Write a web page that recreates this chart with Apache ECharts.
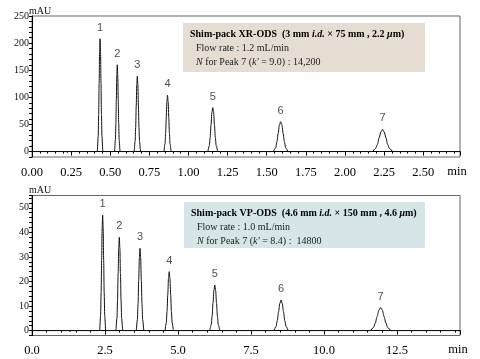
<!DOCTYPE html>
<html><head><meta charset="utf-8">
<script src="https://cdn.jsdelivr.net/npm/echarts@6/dist/echarts.min.js"></script>
<style>html,body{margin:0;padding:0;background:#fff}#c{width:480px;height:359px}</style>
</head><body><div id="c"></div>
<script>
// Top chromatogram (Shim-pack XR-ODS), time in min, signal in mAU
const topTimes = [0, 0.22, 0.226, 0.232,
  0.417, 0.423, 0.426, 0.429, 0.432, 0.435, 0.438, 0.441, 0.444, 0.447, 0.453,
  0.527, 0.533, 0.536, 0.539, 0.542, 0.545, 0.548, 0.551, 0.554, 0.557, 0.563,
  0.652, 0.659, 0.6625, 0.666, 0.6695, 0.673, 0.6765, 0.680, 0.6835, 0.687, 0.694,
  0.842, 0.850, 0.854, 0.858, 0.862, 0.866, 0.870, 0.874, 0.878, 0.882, 0.890,
  1.122, 1.133, 1.1385, 1.144, 1.1495, 1.155, 1.1605, 1.166, 1.1715, 1.177, 1.188,
  1.541, 1.557, 1.565, 1.573, 1.581, 1.589, 1.597, 1.605, 1.613, 1.621, 1.637,
  2.174, 2.196, 2.207, 2.218, 2.229, 2.240, 2.251, 2.262, 2.273, 2.284, 2.306,
  2.735];
const topValues = [0, 0, -2, 0,
  0, 28, 68, 126, 184, 208, 184, 126, 68, 28, 0,
  0, 22, 52, 97, 141, 160, 141, 97, 52, 22, 0,
  0, 19, 45, 84, 123, 139, 123, 84, 45, 19, 0,
  0, 14, 34, 63, 92, 104, 92, 63, 34, 14, 0,
  0, 11, 26, 49, 72, 81, 72, 49, 26, 11, 0,
  0, 7, 18, 33, 49, 55, 49, 33, 18, 7, 0,
  0, 6, 13, 25, 36, 41, 36, 25, 13, 6, 0,
  0];
const topPeakTimes = [0.435, 0.545, 0.673, 0.866, 1.155, 1.589, 2.240];
const topPeakHeights = [208, 160, 139, 104, 81, 55, 41];

// Bottom chromatogram (Shim-pack VP-ODS)
const botTimes = [0, 1.28, 1.3, 1.32,
  2.315, 2.350, 2.3675, 2.385, 2.4025, 2.42, 2.4375, 2.455, 2.4725, 2.49, 2.525,
  2.87, 2.91, 2.93, 2.95, 2.97, 2.99, 3.01, 3.03, 3.05, 3.07, 3.11,
  3.565, 3.61, 3.6325, 3.655, 3.6775, 3.70, 3.7225, 3.745, 3.7675, 3.79, 3.835,
  4.55, 4.60, 4.625, 4.65, 4.675, 4.70, 4.725, 4.75, 4.775, 4.80, 4.85,
  6.08, 6.14, 6.17, 6.20, 6.23, 6.26, 6.29, 6.32, 6.35, 6.38, 6.44,
  8.275, 8.36, 8.4025, 8.445, 8.4875, 8.53, 8.5725, 8.615, 8.6575, 8.70, 8.785,
  11.58, 11.70, 11.76, 11.82, 11.88, 11.94, 12.00, 12.06, 12.12, 12.18, 12.30,
  14.66];
const botValues = [0, 0, -0.4, 0,
  0, 6.3, 15.3, 28.5, 41.5, 47, 41.5, 28.5, 15.3, 6.3, 0,
  0, 5.1, 12.4, 23.1, 33.6, 38, 33.6, 23.1, 12.4, 5.1, 0,
  0, 4.5, 10.9, 20.3, 29.6, 33.5, 29.6, 20.3, 10.9, 4.5, 0,
  0, 3.2, 7.8, 14.6, 21.2, 24, 21.2, 14.6, 7.8, 3.2, 0,
  0, 2.5, 6.0, 11.2, 16.3, 18.5, 16.3, 11.2, 6.0, 2.5, 0,
  0, 1.7, 4.1, 7.6, 11.0, 12.5, 11.0, 7.6, 4.1, 1.7, 0,
  0, 1.3, 3.1, 5.7, 8.3, 9.4, 8.3, 5.7, 3.1, 1.3, 0,
  0];
const botPeakTimes = [2.42, 2.99, 3.70, 4.70, 6.26, 8.53, 11.94];
const botPeakHeights = [47, 38, 33.5, 24, 18.5, 12.5, 9.4];

const peakLabels = ['1', '2', '3', '4', '5', '6', '7'];

const zip = (a, b) => a.map((v, i) => [v, b[i]]);
const serif = '"Liberation Serif", "Times New Roman", serif';

function xAxisCfg(gi, max, interval, digits) {
  return {
    type: 'value', gridIndex: gi, min: 0, max: max, interval: interval,
    axisLine: { lineStyle: { color: '#000', width: 1 } },
    axisTick: { show: true, length: 4, lineStyle: { color: '#000' } },
    minorTick: { show: true, splitNumber: 5, length: 2, lineStyle: { color: '#000' } },
    splitLine: { show: false },
    axisLabel: { showMaxLabel: false, margin: 9, color: '#000', fontFamily: serif, fontSize: 12.5,
      formatter: v => v.toFixed(digits) }
  };
}
function yAxisCfg(gi, min, max, interval, labelStep) {
  return {
    type: 'value', gridIndex: gi, min: min, max: max, interval: interval,
    axisLine: { show: true, lineStyle: { color: '#000', width: 1 } },
    axisTick: { show: true, length: 3, lineStyle: { color: '#000' } },
    splitLine: { show: false },
    axisLabel: { margin: 3, color: '#111', fontFamily: serif, fontSize: 10,
      formatter: v => (v >= 0 && Math.abs(v % labelStep) < 1e-9) ? String(v) : '' }
  };
}
function labelSeries(xi, times, heights) {
  return {
    type: 'scatter', xAxisIndex: xi, yAxisIndex: xi, symbolSize: 1,
    itemStyle: { color: 'rgba(0,0,0,0)' }, silent: true,
    data: times.map((t, i) => [t, heights[i], peakLabels[i]]),
    label: { show: true, position: 'top', distance: 5, formatter: p => p.data[2],
      color: '#222', fontFamily: '"Liberation Sans", Arial, sans-serif', fontSize: 11 }
  };
}
function box(x, y, w, h, fill, col, k, nval) {
  const rich = {
    b: { fontFamily: serif, fontWeight: 'bold', fontSize: 10, fill: '#000' },
    bi: { fontFamily: serif, fontWeight: 'bold', fontStyle: 'italic', fontSize: 10, fill: '#000' },
    r: { fontFamily: serif, fontSize: 10, fill: '#222' },
    ri: { fontFamily: serif, fontStyle: 'italic', fontSize: 10, fill: '#222' }
  };
  return [
    { type: 'rect', shape: { x: x, y: y, width: w, height: h }, style: { fill: fill }, z: 10 },
    { type: 'text', x: x + 7, y: y + 11, z: 11, style: { rich: rich, verticalAlign: 'middle',
      text: '{b|Shim-pack ' + col[0] + '  (' + col[1] + ' mm }{bi|i.d.}{b| × ' + col[2] + ' mm , ' + col[3] + ' }{bi|μ}{b|m)}' } },
    { type: 'text', x: x + 13, y: y + 25, z: 11, style: { rich: rich, verticalAlign: 'middle',
      text: '{r|Flow rate : ' + col[4] + ' mL/min}' } },
    { type: 'text', x: x + 13, y: y + 39, z: 11, style: { rich: rich, verticalAlign: 'middle',
      text: '{ri|N}{r| for Peak 7 (}{ri|k\'}{r| = ' + k + ') : ' + nval + '}' } }
  ];
}

const chart = echarts.init(document.getElementById('c'));
chart.setOption({
  animation: false,
  backgroundColor: '#fff',
  grid: [
    { left: 32, right: 20, top: 16, height: 141, show: true, borderColor: '#666', borderWidth: 1 },
    { left: 32, right: 20, top: 195.5, height: 140, show: true, borderColor: '#666', borderWidth: 1 }
  ],
  xAxis: [xAxisCfg(0, 2.735, 0.25, 2), xAxisCfg(1, 14.66, 2.5, 1)],
  yAxis: [yAxisCfg(0, -10, 250, 10, 50), yAxisCfg(1, -2, 55, 2, 10)],
  series: [
    { type: 'line', xAxisIndex: 0, yAxisIndex: 0, data: zip(topTimes, topValues), showSymbol: false,
      smooth: 0.3, smoothMonotone: 'x', lineStyle: { color: '#111', width: 1 } },
    { type: 'line', xAxisIndex: 1, yAxisIndex: 1, data: zip(botTimes, botValues), showSymbol: false,
      smooth: 0.3, smoothMonotone: 'x', lineStyle: { color: '#111', width: 1 } },
    labelSeries(0, topPeakTimes, topPeakHeights),
    labelSeries(1, botPeakTimes, botPeakHeights)
  ],
  graphic: [
    { type: 'text', x: 29, y: 11, style: { text: 'mAU', fontFamily: serif, fontSize: 10, fill: '#111', verticalAlign: 'middle' } },
    { type: 'text', x: 29, y: 190, style: { text: 'mAU', fontFamily: serif, fontSize: 10, fill: '#111', verticalAlign: 'middle' } },
    { type: 'text', x: 457, y: 172, style: { text: 'min', fontFamily: serif, fontSize: 12.5, fill: '#000', align: 'center', verticalAlign: 'middle' } },
    { type: 'text', x: 458, y: 350, style: { text: 'min', fontFamily: serif, fontSize: 12.5, fill: '#000', align: 'center', verticalAlign: 'middle' } }
  ].concat(
    box(183, 23, 242, 49, '#e6ddd2', ['XR-ODS', '3', '75', '2.2', '1.2'], '9.0', '14,200'),
    box(184, 202, 241, 46, '#d5e5e8', ['VP-ODS', '4.6', '150', '4.6', '1.0'], '8.4', ' 14800')
  )
});
</script>
</body></html>
